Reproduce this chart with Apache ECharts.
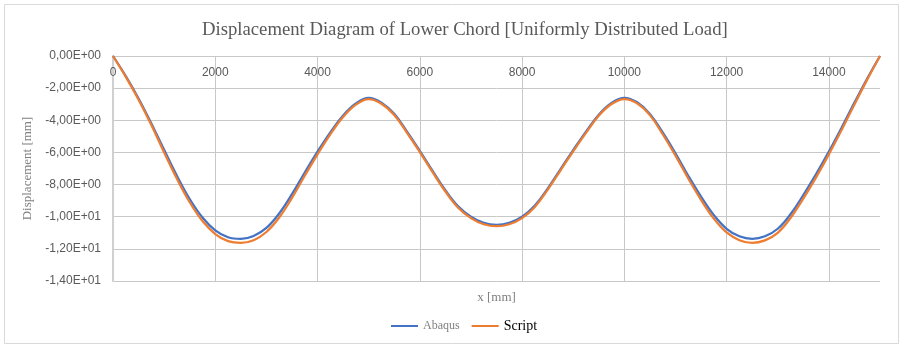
<!DOCTYPE html>
<html>
<head>
<meta charset="utf-8">
<script src="https://cdn.jsdelivr.net/npm/echarts@6/dist/echarts.min.js"></script>
<style>
  html, body { margin: 0; padding: 0; background: #fff; }
  #chart { width: 905px; height: 349px; }
</style>
</head>
<body>
<div id="chart"></div>
<script>
// x positions along the lower chord [mm]
const xs = [
  0, 250, 500, 750, 1000, 1250, 1500, 1750, 2000, 2250,
  2500, 2750, 3000, 3250, 3500, 3750, 4000, 4250, 4500, 4750,
  5000, 5250, 5500, 5750, 6000, 6250, 6500, 6750, 7000, 7250,
  7500, 7750, 8000, 8250, 8500, 8750, 9000, 9250, 9500, 9750,
  10000, 10250, 10500, 10750, 11000, 11250, 11500, 11750, 12000, 12250,
  12500, 12750, 13000, 13250, 13500, 13750, 14000, 14250, 14500, 14750,
  15000
];

// displacement [mm]
const abaqus = [
  0, -1.25, -2.64, -4.2, -5.84, -7.45, -8.9, -10.05, -10.85, -11.28,
  -11.38, -11.2, -10.7, -9.8, -8.6, -7.25, -5.95, -4.75, -3.7, -2.95,
  -2.6, -2.9, -3.6, -4.7, -5.9, -7.15, -8.35, -9.35, -10.0, -10.38,
  -10.5, -10.38, -10.0, -9.3, -8.25, -7.05, -5.85, -4.7, -3.65, -2.92,
  -2.6, -2.88, -3.6, -4.75, -6.05, -7.45, -8.75, -9.9, -10.75, -11.22,
  -11.38, -11.22, -10.75, -9.85, -8.65, -7.35, -5.95, -4.45, -2.9, -1.4,
  0
];

const script = [
  0, -1.3, -2.72, -4.3, -6.0, -7.64, -9.1, -10.27, -11.08, -11.52,
  -11.63, -11.46, -10.95, -10.05, -8.83, -7.45, -6.12, -4.88, -3.8, -3.03,
  -2.68, -2.97, -3.67, -4.78, -5.98, -7.23, -8.43, -9.44, -10.09, -10.47,
  -10.59, -10.47, -10.09, -9.39, -8.33, -7.13, -5.93, -4.78, -3.72, -2.99,
  -2.68, -2.95, -3.68, -4.87, -6.2, -7.62, -8.95, -10.12, -10.98, -11.46,
  -11.63, -11.47, -11.0, -10.08, -8.87, -7.55, -6.12, -4.6, -3.02, -1.47,
  0
];

const seriesNames = ['Abaqus', 'Script'];
const seriesColors = ['#4472C4', '#ED7D31'];

// excel style scientific label, comma as decimal separator
function sciLabel(v) {
  if (v === 0) return '0,00E+00';
  const e = Math.floor(Math.log10(Math.abs(v)) + 1e-9);
  const m = v / Math.pow(10, e);
  const exp = (e < 0 ? '-' : '+') + String(Math.abs(e)).padStart(2, '0');
  return m.toFixed(2).replace('.', ',') + 'E' + exp;
}

const chart = echarts.init(document.getElementById('chart'));

const serif = '"Liberation Serif", "DejaVu Serif", serif';
const sans = '"Liberation Sans", "Noto Sans", sans-serif';

const option = {
  animation: false,
  graphic: [{
    type: 'rect',
    shape: { x: 4.5, y: 4.5, width: 894, height: 339 },
    style: { fill: 'none', stroke: '#d9d9d9', lineWidth: 1 },
    silent: true
  }],
  title: {
    text: 'Displacement Diagram of Lower Chord [Uniformly Distributed Load]',
    left: 197,
    top: 16,
    textStyle: { fontFamily: serif, fontSize: 18.7, fontWeight: 'normal', color: '#595959' }
  },
  legend: {
    bottom: 11,
    left: 386,
    icon: 'rect',
    itemWidth: 27,
    itemHeight: 2,
    itemGap: 12,
    data: [
      { name: seriesNames[0], textStyle: { fontFamily: serif, fontSize: 12, color: '#7f7f7f' } },
      { name: seriesNames[1], textStyle: { fontFamily: serif, fontSize: 14, color: '#000' } }
    ]
  },
  grid: { left: 113, right: 25, top: 56, bottom: 68 },
  xAxis: [{
    type: 'value',
    position: 'top',
    min: 0,
    max: 15000,
    interval: 2000,
    axisLine: { show: true, onZero: false, lineStyle: { color: '#c8c8c8', width: 1 } },
    axisTick: { show: false },
    axisLabel: {
      inside: true, showMaxLabel: false, margin: 11,
      fontFamily: sans, fontSize: 12, color: '#595959',
      formatter: v => String(v)
    },
    splitLine: { show: true, showMaxLine: false, lineStyle: { color: '#c8c8c8', width: 1 } }
  }, {
    type: 'value',
    position: 'bottom',
    min: 0,
    max: 15000,
    name: 'x [mm]',
    nameLocation: 'middle',
    nameGap: 10,
    nameTextStyle: { fontFamily: serif, fontSize: 13, color: '#7f7f7f' },
    axisLine: { show: false, onZero: false },
    axisTick: { show: false },
    axisLabel: { show: false },
    splitLine: { show: false }
  }],
  yAxis: {
    type: 'value',
    min: -14,
    max: 0,
    interval: 2,
    name: 'Displacement [mm]',
    nameLocation: 'middle',
    nameGap: 69,
    nameTextStyle: { fontFamily: serif, fontSize: 13, color: '#7f7f7f' },
    axisLine: { show: true, onZero: false, lineStyle: { color: '#d0d0d0', width: 2 } },
    axisTick: { show: false },
    axisLabel: { margin: 12, fontFamily: sans, fontSize: 12, color: '#595959', formatter: sciLabel },
    splitLine: { show: true, lineStyle: { color: '#c8c8c8', width: 1 } }
  },
  series: [abaqus, script].map((vals, i) => ({
    name: seriesNames[i],
    type: 'line',
    xAxisIndex: 0,
    data: xs.map((x, k) => [x, vals[k]]),
    showSymbol: false,
    smooth: 0.4,
    lineStyle: { color: seriesColors[i], width: 2.25 },
    itemStyle: { color: seriesColors[i] },
    z: 2 + i
  }))
};

chart.setOption(option);
</script>
</body>
</html>
